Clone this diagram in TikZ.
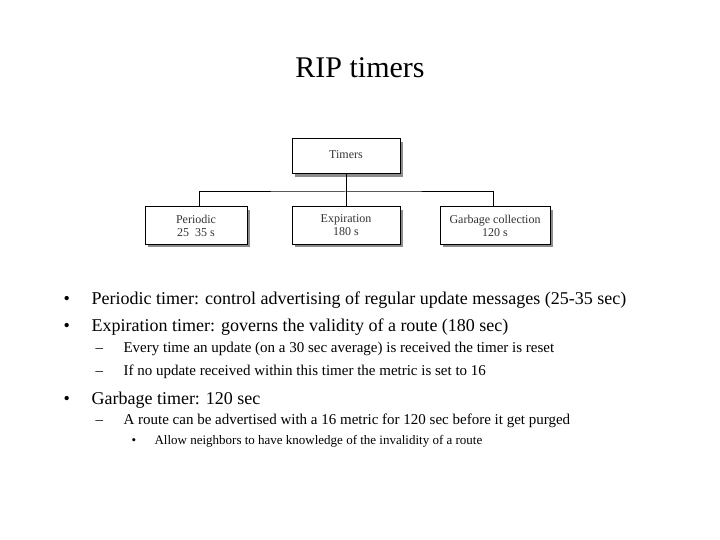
\documentclass[tikz,border=0pt]{standalone}
\usepackage{fontspec}
\setmainfont{Liberation Serif}
\begin{document}
\begin{tikzpicture}[x=1pt,y=-1pt,
  bx/.style={draw,line width=1pt,fill=white,minimum height=36pt,align=center,font=\fontsize{12}{13}\selectfont,text=black!80,inner sep=1pt},
  shd/.style={fill=black!45},
  ln/.style={line width=1pt},
  t1/.style={anchor=base west,font=\fontsize{18}{20}\selectfont},
  t2/.style={anchor=base west,font=\fontsize{15}{17}\selectfont},
  t3/.style={anchor=base west,font=\fontsize{13}{15}\selectfont}]
\useasboundingbox (0,0) rectangle (720,540);
\node[font=\fontsize{30}{32}\selectfont] (title) at (360,68) {RIP timers};
\fill[shd] (295,142) rectangle (403,177);
\fill[shd] (148,210) rectangle (250,247);
\fill[shd] (295,210) rectangle (403,247);
\fill[shd] (443,210) rectangle (553,247);
\node[bx,minimum width=108pt,minimum height=35pt] (tm) at (346,156.5) {Timers\\[-9pt]\mbox{}};
\node[bx,minimum width=102pt,minimum height=37pt] (pe) at (196,225.5) {Periodic\\25\enspace35 s};
\node[bx,minimum width=108pt,minimum height=37pt] (ex) at (346,225.5) {Expiration\\180 s};
\node[bx,minimum width=110pt,minimum height=37pt] (gc) at (495,225.5) {Garbage collection\\120 s};
\coordinate (j) at (346,192);
\draw[ln] (tm.south) -- (ex.north);
\draw[ln] (pe.north -| 199,0) |- (j) -| (gc.north -| 493,0);
\node[t1] (b1) at (60,304) {•};
\node[t1] (l1) at (88,304) {Periodic timer: control advertising of regular update messages (25-35 sec)};
\node[t1] (b2) at (60,331) {•};
\node[t1] (l2) at (88,331) {Expiration timer: governs the validity of a route (180 sec)};
\node[t2] (d1) at (92,352) {–};
\node[t2] (s1) at (120,352) {Every time an update (on a 30 sec average) is received the timer is reset};
\node[t2] (d2) at (92,375) {–};
\node[t2] (s2) at (120,375) {If no update received within this timer the metric is set to 16};
\node[t1] (b3) at (60,404) {•};
\node[t1] (l3) at (88,404) {Garbage timer: 120 sec};
\node[t2] (d3) at (92,424) {–};
\node[t2] (s3) at (120,424) {A route can be advertised with a 16 metric for 120 sec before it get purged};
\node[t3] (e1) at (128,444) {•};
\node[t3] (ss1) at (151,444) {Allow neighbors to have knowledge of the invalidity of a route};
\end{tikzpicture}
\end{document}
